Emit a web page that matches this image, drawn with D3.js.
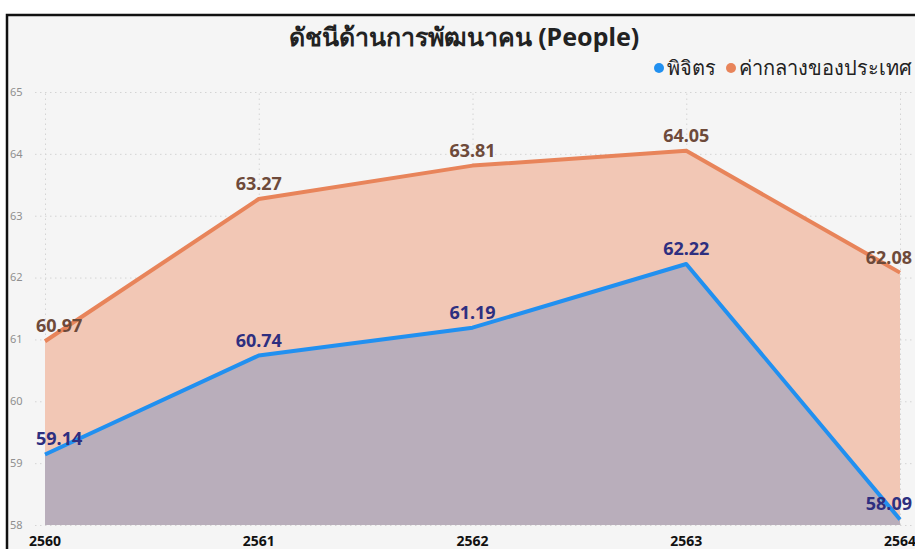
<!DOCTYPE html>
<html>
<head>
<meta charset="utf-8">
<script src="https://cdn.jsdelivr.net/npm/d3@7"></script>
<style>
    body { margin: 0; background: #fff; }
    svg { display: block; font-family: "Segoe UI", "Noto Sans", "DejaVu Sans", sans-serif; }
</style>
</head>
<body>
<div id="chart"></div>
<script>
// Data
const years = ["2560", "2561", "2562", "2563", "2564"];
const phichit = [59.14, 60.74, 61.19, 62.22, 58.09];
const national = [60.97, 63.27, 63.81, 64.05, 62.08];
const yTicks = [58, 59, 60, 61, 62, 63, 64, 65];
const seriesNames = ["พิจิตร", "ค่ากลางของประเทศ"];

const width = 915,
    height = 549,
    margin = { top: 92, right: 15, bottom: 24, left: 45 };

const svg = d3
    .select("#chart")
    .append("svg")
    .attr("width", width)
    .attr("height", height);

// Panel background and frame
svg.append("rect")
    .attr("x", 7)
    .attr("y", 15)
    .attr("width", width)
    .attr("height", height)
    .attr("fill", "#f5f5f5")
    .attr("stroke", "#111")
    .attr("stroke-width", 2.5);

let x = d3
    .scalePoint()
    .domain(years)
    .range([margin.left, width - margin.right]);

let y = d3
    .scaleLinear()
    .domain([58, 65])
    .range([height - margin.bottom, margin.top]);

// Grid
svg.append("g")
    .attr("transform", `translate(35,0)`)
    .call(d3.axisLeft(y).tickValues(yTicks).tickSize(-(width - 35)).tickFormat(""))
    .call((g) => g.select(".domain").remove())
    .call((g) => g.selectAll("line")
        .attr("stroke", "#d4d4d4")
        .attr("stroke-dasharray", "1.5,3.5"));

svg.append("g")
    .attr("transform", `translate(0,${height - margin.bottom})`)
    .call(d3.axisBottom(x).tickSize(-(height - margin.bottom - margin.top)).tickFormat(""))
    .call((g) => g.select(".domain").remove())
    .call((g) => g.selectAll("line")
        .attr("stroke", "#d4d4d4")
        .attr("stroke-dasharray", "1.5,3.5"));

// Areas
const natData = years.map((yr, i) => ({ yr, v: national[i] }));
const phiData = years.map((yr, i) => ({ yr, v: phichit[i] }));

const area = d3
    .area()
    .x((d) => x(d.yr))
    .y0(y(58))
    .y1((d) => y(d.v));

const line = d3
    .line()
    .x((d) => x(d.yr))
    .y((d) => y(d.v));

svg.append("path").datum(natData).attr("d", area).attr("fill", "#f2c7b5");
svg.append("path").datum(phiData).attr("d", area).attr("fill", "#b9aebb");

svg.append("path")
    .datum(natData)
    .attr("d", line)
    .attr("fill", "none")
    .attr("stroke", "#e8845a")
    .attr("stroke-width", 4)
    .attr("stroke-linejoin", "round");

svg.append("path")
    .datum(phiData)
    .attr("d", line)
    .attr("fill", "none")
    .attr("stroke", "#2190f0")
    .attr("stroke-width", 4)
    .attr("stroke-linejoin", "round");

// Data labels
function labels(data, color) {
    svg.append("g")
        .selectAll("text")
        .data(data)
        .join("text")
        .attr("x", (d, i) => (i === 0 ? x(d.yr) - 9 : i === data.length - 1 ? width - 3 : x(d.yr)))
        .attr("y", (d) => y(d.v) - 9)
        .attr("text-anchor", (d, i) => (i === 0 ? "start" : i === data.length - 1 ? "end" : "middle"))
        .attr("font-size", 18)
        .attr("font-weight", "bold")
        .attr("fill", color)
        .text((d) => d.v.toFixed(2));
}
labels(natData, "#6e4a3a");
labels(phiData, "#2e2f80");

// Y tick labels
svg.append("g")
    .selectAll("text")
    .data(yTicks)
    .join("text")
    .attr("x", 10)
    .attr("y", (d) => y(d))
    .attr("dy", "0.35em")
    .attr("font-size", 11)
    .attr("fill", "#8f8f8f")
    .text((d) => d);

// X tick labels
svg.append("g")
    .selectAll("text")
    .data(years)
    .join("text")
    .attr("x", (d) => x(d))
    .attr("y", 546)
    .attr("text-anchor", "middle")
    .attr("font-size", 14)
    .attr("font-weight", "bold")
    .attr("fill", "#111")
    .text((d) => d);

// Title
svg.append("text")
    .attr("x", 464)
    .attr("y", 46)
    .attr("text-anchor", "middle")
    .attr("font-size", 25)
    .attr("font-weight", "bold")
    .attr("fill", "#222")
    .text("ดัชนีด้านการพัฒนาคน (People)");

// Legend, right aligned
const legendColors = ["#2190f0", "#e8845a"];
const legend = svg.append("g").attr("font-size", 20).attr("fill", "#222");
let lx = 0;
seriesNames.forEach((name, i) => {
    legend.append("circle")
        .attr("cx", lx + 5)
        .attr("cy", 68)
        .attr("r", 5)
        .attr("fill", legendColors[i]);
    const t = legend.append("text")
        .attr("x", lx + 13)
        .attr("y", 75)
        .text(name);
    lx += 13 + t.node().getComputedTextLength() + 10;
});
legend.attr("transform", `translate(${912 - (lx - 10)},0)`);
</script>
</body>
</html>
